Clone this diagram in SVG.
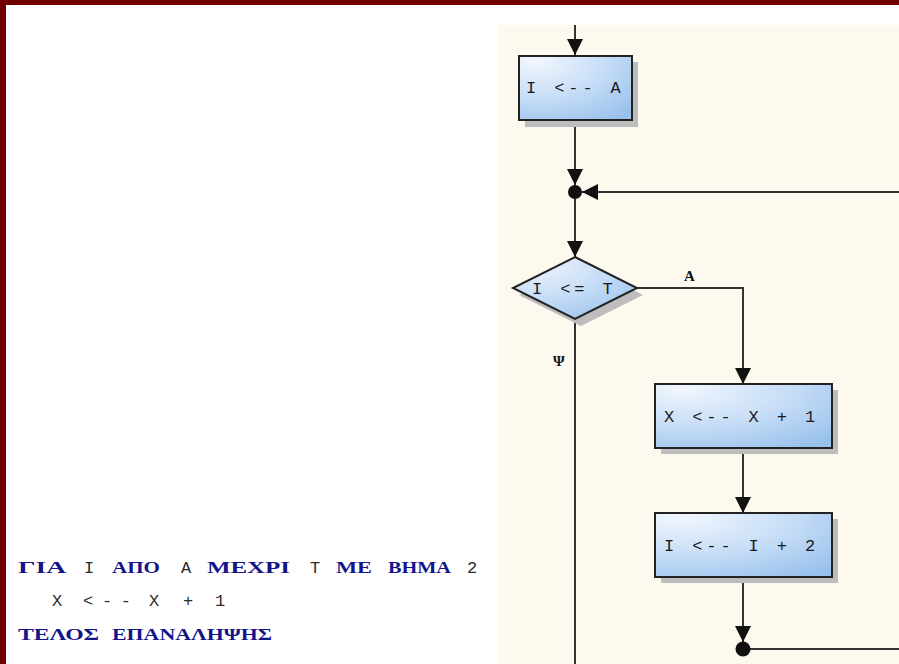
<svg xmlns="http://www.w3.org/2000/svg" width="899" height="664" viewBox="0 0 899 664">
  <defs>
    <radialGradient id="boxFill" cx="0.2" cy="0.1" r="1.1" fx="0.15" fy="0.05">
      <stop offset="0" stop-color="#f2f7fe"/>
      <stop offset="0.55" stop-color="#c5dcf6"/>
      <stop offset="1" stop-color="#98c1ec"/>
    </radialGradient>
    <marker id="arrow" markerUnits="userSpaceOnUse" markerWidth="18" markerHeight="18" refX="16" refY="8" orient="auto">
      <path d="M0,0 L16,8 L0,16 Z" fill="#111"/>
    </marker>
  </defs>
  <style>
    .frame { fill: #700000; }
    .panel { fill: #fef9ee; }
    .box { fill: url(#boxFill); stroke: #222; stroke-width: 2; }
    .shadow { fill: #bdbdbd; }
    .flow { font-family: "Liberation Mono", "DejaVu Sans Mono", monospace; font-size: 17px; letter-spacing: 3.9px; fill: #1a1a1a; }
    .lbl { font-family: "Liberation Serif", "DejaVu Serif", serif; font-size: 15px; font-weight: bold; fill: #111; }
    .wire { fill: none; stroke: #333; stroke-width: 2; }
    .dot { fill: #111; }
    .kw { font-family: "Liberation Serif", "DejaVu Serif", serif; font-size: 16px; font-weight: bold; fill: #14148a; }
    .id { font-family: "Liberation Mono", "DejaVu Sans Mono", monospace; font-size: 17px; fill: #2a2a2a; }
  </style>

  <!-- window frame and background -->
  <rect x="0" y="0" width="899" height="664" fill="#ffffff"/>
  <rect class="frame" x="0" y="0" width="899" height="5"/>
  <rect class="frame" x="0" y="0" width="6" height="664"/>
  <rect class="panel" x="498" y="25" width="401" height="639"/>

  <!-- pseudo-code listing -->
  <g id="code">
    <text class="kw" x="18" y="573" textLength="48" lengthAdjust="spacingAndGlyphs">ΓΙΑ</text>
    <text class="id" x="84" y="573">I</text>
    <text class="kw" x="112" y="573" textLength="48" lengthAdjust="spacingAndGlyphs">ΑΠΟ</text>
    <text class="id" x="181" y="573">A</text>
    <text class="kw" x="207" y="573" textLength="83" lengthAdjust="spacingAndGlyphs">ΜΕΧΡΙ</text>
    <text class="id" x="310" y="573">T</text>
    <text class="kw" x="336" y="573" textLength="36" lengthAdjust="spacingAndGlyphs">ΜΕ</text>
    <text class="kw" x="388" y="573" textLength="63" lengthAdjust="spacingAndGlyphs">ΒΗΜΑ</text>
    <text class="id" x="467" y="573">2</text>
    <text class="id" x="52" y="606">X</text>
    <text class="id" x="83" y="606" textLength="48" lengthAdjust="spacing">&lt;--</text>
    <text class="id" x="149" y="606">X</text>
    <text class="id" x="183" y="606">+</text>
    <text class="id" x="215" y="606">1</text>
    <text class="kw" x="18" y="640" textLength="81" lengthAdjust="spacingAndGlyphs">ΤΕΛΟΣ</text>
    <text class="kw" x="112" y="640" textLength="160" lengthAdjust="spacingAndGlyphs">ΕΠΑΝΑΛΗΨΗΣ</text>
  </g>

  <!-- connectors -->
  <g id="connectors">
    <line class="wire" x1="575" y1="25" x2="575" y2="55" marker-end="url(#arrow)"/>
    <line class="wire" x1="575" y1="120" x2="575" y2="185" marker-end="url(#arrow)"/>
    <line class="wire" x1="899" y1="192" x2="582" y2="192" marker-end="url(#arrow)"/>
    <line class="wire" x1="575" y1="192" x2="575" y2="257" marker-end="url(#arrow)"/>
    <polyline class="wire" points="637,288 743,288 743,384" marker-end="url(#arrow)"/>
    <line class="wire" x1="575" y1="319" x2="575" y2="664"/>
    <line class="wire" x1="743" y1="448" x2="743" y2="513" marker-end="url(#arrow)"/>
    <line class="wire" x1="743" y1="577" x2="743" y2="642" marker-end="url(#arrow)"/>
    <line class="wire" x1="743" y1="649" x2="899" y2="649"/>
    <circle class="dot" cx="575" cy="192" r="7"/>
    <circle class="dot" cx="743" cy="649" r="7.5"/>
    <text class="lbl" x="684" y="281">Α</text>
    <text class="lbl" x="553" y="366">Ψ</text>
  </g>

  <!-- nodes -->
  <g id="init">
    <rect class="shadow" x="525" y="62" width="113" height="65"/>
    <rect class="box" x="519" y="56" width="113" height="64"/>
    <text class="flow" x="526" y="93">I &lt;-- A</text>
  </g>

  <g id="test">
    <polygon class="shadow" points="581,264 643,295 581,326 519,295"/>
    <polygon class="box" points="575,257 637,288 575,319 513,288" stroke-width="1.5"/>
    <text class="flow" x="532" y="294" letter-spacing="4.6">I &lt;= T</text>
  </g>

  <g id="body">
    <rect class="shadow" x="661" y="390" width="177" height="64"/>
    <rect class="box" x="655" y="384" width="177" height="64"/>
    <text class="flow" x="664" y="422">X &lt;-- X + 1</text>
  </g>

  <g id="step">
    <rect class="shadow" x="661" y="519" width="177" height="64"/>
    <rect class="box" x="655" y="513" width="177" height="64"/>
    <text class="flow" x="664" y="551">I &lt;-- I + 2</text>
  </g>
</svg>
